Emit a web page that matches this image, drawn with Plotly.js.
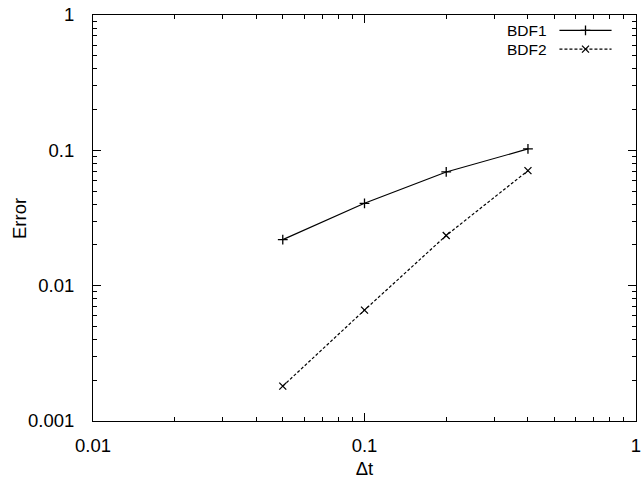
<!DOCTYPE html>
<html>
<head>
<meta charset="utf-8">
<script src="https://cdn.plot.ly/plotly-3.0.1.min.js"></script>
<style>html,body{margin:0;padding:0;background:#fff;}#plot{width:643px;height:482px;}</style>
</head>
<body>
<div id="plot"></div>
<script>
const dt = [0.05, 0.1, 0.2, 0.4];
const bdf1 = [0.0219, 0.0406, 0.0692, 0.1024];
const bdf2 = [0.00181, 0.0066, 0.0235, 0.0708];
const seriesNames = ['BDF1', 'BDF2'];
const xTickVals = [0.01, 0.1, 1];
const xTickText = ['0.01', '0.1', '1'];
const yTickVals = [0.001, 0.01, 0.1, 1];
const yTickText = ['0.001', '0.01', '0.1', '1'];
const xTitle = 'Δt';
const yTitle = 'Error';

function minorVals(lo, hi) {
  const out = [];
  for (let d = lo; d < hi; d++) {
    for (let k = 2; k <= 9; k++) out.push(k * Math.pow(10, d));
  }
  return out;
}

const font = {family: 'Liberation Sans, Arial, Helvetica, sans-serif', size: 18.5, color: '#000'};
const keyFont = {family: 'Liberation Sans, Arial, Helvetica, sans-serif', size: 15.5, color: '#000'};

const traces = [
  {x: dt, y: bdf1, name: seriesNames[0], mode: 'lines+markers', type: 'scatter',
   line: {color: '#000', width: 1.2},
   marker: {symbol: 'cross-thin', size: 7, line: {color: '#000', width: 1.3}},
   showlegend: false},
  {x: dt, y: bdf2, name: seriesNames[1], mode: 'lines+markers', type: 'scatter',
   line: {color: '#000', width: 1.2, dash: '3px,2px'},
   marker: {symbol: 'x-thin', size: 7, line: {color: '#000', width: 1.3}},
   showlegend: false},
  // legend samples (key) on an overlay axis in [0,1]
  {x: [0.859, 0.955], y: [0.962, 0.962], xaxis: 'x2', yaxis: 'y2', mode: 'lines', type: 'scatter',
   line: {color: '#000', width: 1.2}, hoverinfo: 'skip', showlegend: false},
  {x: [0.907], y: [0.962], xaxis: 'x2', yaxis: 'y2', mode: 'markers', type: 'scatter',
   marker: {symbol: 'cross-thin', size: 7, line: {color: '#000', width: 1.3}}, hoverinfo: 'skip', showlegend: false},
  {x: [0.859, 0.955], y: [0.916, 0.916], xaxis: 'x2', yaxis: 'y2', mode: 'lines', type: 'scatter',
   line: {color: '#000', width: 1.2, dash: '3px,2px'}, hoverinfo: 'skip', showlegend: false},
  {x: [0.907], y: [0.916], xaxis: 'x2', yaxis: 'y2', mode: 'markers', type: 'scatter',
   marker: {symbol: 'x-thin', size: 7, line: {color: '#000', width: 1.3}}, hoverinfo: 'skip', showlegend: false}
];

const axisCommon = {
  type: 'log', showgrid: false, zeroline: false, showline: true, linecolor: '#000', linewidth: 1,
  mirror: 'allticks', ticks: 'inside', ticklen: 8, tickwidth: 1, tickcolor: '#000',
  tickfont: font, tickmode: 'array'
};

const layout = {
  width: 643, height: 482,
  margin: {l: 93, r: 7, t: 15, b: 61},
  paper_bgcolor: '#fff', plot_bgcolor: '#fff',
  font: font,
  showlegend: false,
  xaxis: Object.assign({}, axisCommon, {
    range: [-2, 0], tickvals: xTickVals, ticktext: xTickText,
    minor: {tickmode: 'array', tickvals: minorVals(-2, 0), ticks: 'inside', ticklen: 4, tickcolor: '#000', tickwidth: 1, showgrid: false},
    ticklabelstandoff: 8,
    title: {text: xTitle, font: font, standoff: 6}
  }),
  yaxis: Object.assign({}, axisCommon, {
    range: [-3, 0], tickvals: yTickVals, ticktext: yTickText,
    minor: {tickmode: 'array', tickvals: minorVals(-3, 0), ticks: 'inside', ticklen: 4, tickcolor: '#000', tickwidth: 1, showgrid: false},
    ticklabelstandoff: 14
  }),
  xaxis2: {overlaying: 'x', range: [0, 1], visible: false, fixedrange: true},
  yaxis2: {overlaying: 'y', range: [0, 1], visible: false, fixedrange: true},
  annotations: [
    {xref: 'paper', yref: 'paper', x: -0.1363, y: 0.5, text: yTitle, textangle: -90, showarrow: false, xanchor: 'center', yanchor: 'middle', font: font},
    {xref: 'x2', yref: 'y2', x: 0.840, y: 0.962, text: seriesNames[0], showarrow: false, xanchor: 'right', yanchor: 'middle', font: keyFont},
    {xref: 'x2', yref: 'y2', x: 0.840, y: 0.916, text: seriesNames[1], showarrow: false, xanchor: 'right', yanchor: 'middle', font: keyFont}
  ]
};

Plotly.newPlot('plot', traces, layout, {staticPlot: true, displayModeBar: false});
</script>
</body>
</html>
